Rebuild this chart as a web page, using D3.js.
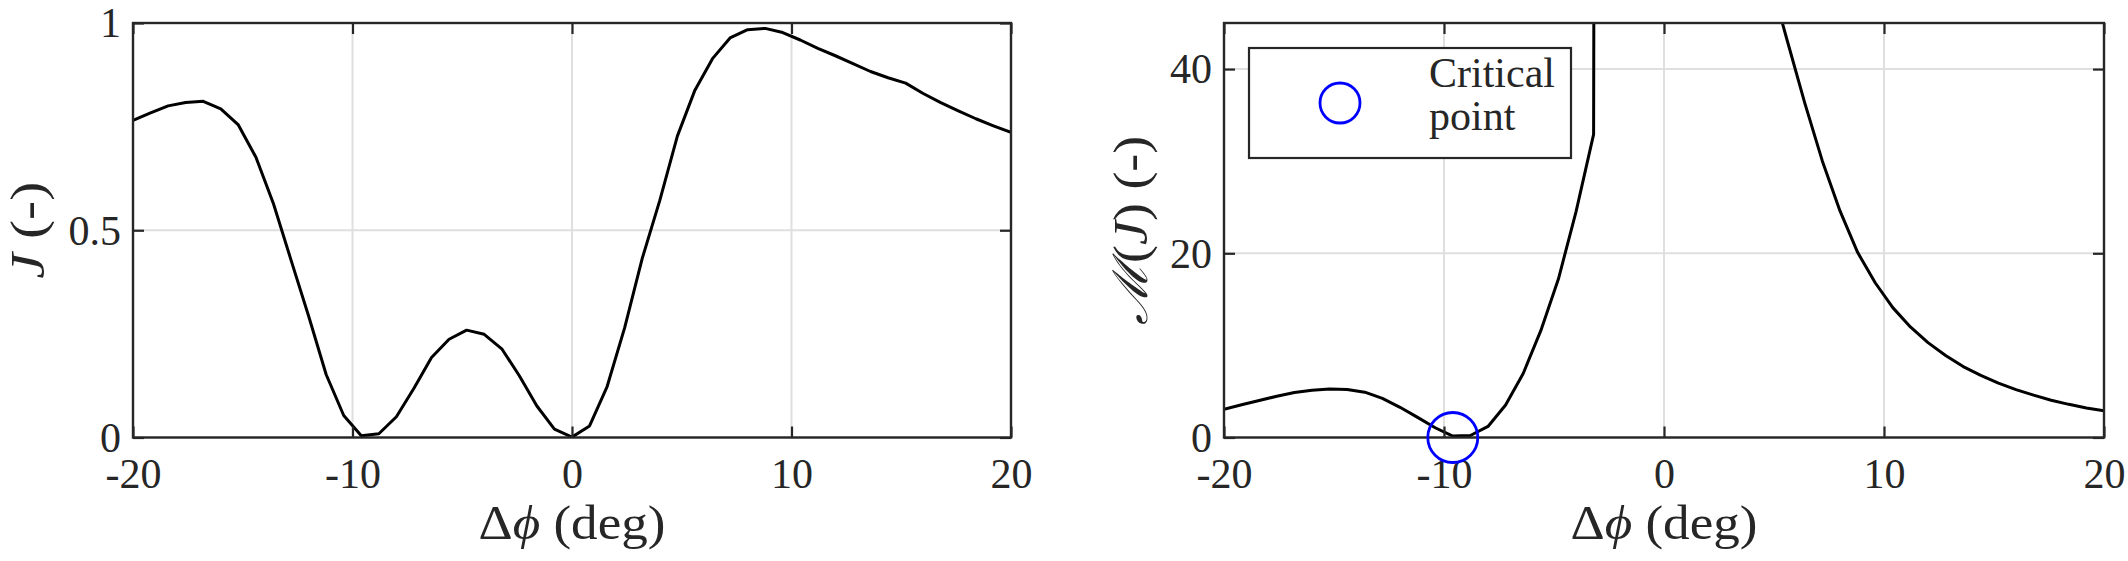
<!DOCTYPE html>
<html>
<head>
<meta charset="utf-8">
<script src="https://cdn.jsdelivr.net/npm/d3@7"></script>
<style>
  body { margin: 0; background: #fff; }
</style>
</head>
<body>
<svg id="fig" width="2128" height="561"></svg>
<script>
// delta phi samples (deg)
const dphi = [-20, -19.2, -18.4, -17.6, -16.8, -16, -15.2, -14.4, -13.6, -12.8,
  -12, -11.2, -10.4, -9.6, -8.8, -8, -7.2, -6.4, -5.6, -4.8,
  -4, -3.2, -2.4, -1.6, -0.8, 0, 0.8, 1.6, 2.4, 3.2,
  4, 4.8, 5.6, 6.4, 7.2, 8, 8.8, 9.6, 10.4, 11.2,
  12, 12.8, 13.6, 14.4, 15.2, 16, 16.8, 17.6, 18.4, 19.2, 20];

// J (-)
const jVals = [0.765, 0.783, 0.800, 0.808, 0.811, 0.793, 0.754, 0.676, 0.564, 0.428,
  0.293, 0.152, 0.053, 0.004, 0.009, 0.050, 0.119, 0.193, 0.237, 0.259,
  0.249, 0.214, 0.149, 0.076, 0.020, 0.001, 0.028, 0.123, 0.265, 0.432,
  0.572, 0.727, 0.838, 0.914, 0.964, 0.984, 0.987, 0.977, 0.959, 0.939,
  0.921, 0.902, 0.883, 0.868, 0.855, 0.830, 0.808, 0.788, 0.769, 0.752, 0.736];

// M(J) (-), off-scale values between -2.4 and 4 deg
const mVals = [3.07, 3.55, 4.02, 4.48, 4.88, 5.12, 5.27, 5.22, 4.92, 4.25,
  3.28, 2.18, 1.06, 0.15, 0.22, 1.2, 3.52, 6.95, 11.6, 17.2,
  24.5, 32.9, 1000, 1000, 1000, 1000, 1000, 1000, 1000, 1000,
  1000, 50, 43.1, 36.3, 30.0, 24.6, 20.1, 16.8, 14.1, 12.0,
  10.3, 8.9, 7.7, 6.75, 5.9, 5.2, 4.6, 4.05, 3.6, 3.2, 2.9];

// critical point
const critX = [-9.6];
const critY = [0];

const xTicks = [-20, -10, 0, 10, 20];
const jTicks = [0, 0.5, 1];
const mTicks = [0, 20, 40];

const FONT = "'Liberation Serif', 'Times New Roman', 'DejaVu Serif', serif";
const svg = d3.select("#fig").attr("font-family", FONT);
const top_ = 23, bottom = 437.5;
const ink = "#262626";

function txt(sel, size) {
  return sel.style("font-family", FONT).style("font-size", size + "px").attr("fill", ink);
}

function panel(id, x0, x1, yDomain, yTicks, values) {
  const x = d3.scaleLinear().domain([-20, 20]).range([x0, x1]);
  const y = d3.scaleLinear().domain(yDomain).range([bottom, top_]);
  const g = svg.append("g").attr("id", id);

  g.append("clipPath").attr("id", id + "clip")
    .append("rect").attr("x", x0).attr("y", top_)
    .attr("width", x1 - x0).attr("height", bottom - top_);

  // grid
  g.selectAll(".gx").data(xTicks).enter().append("line")
    .attr("x1", d => x(d)).attr("x2", d => x(d))
    .attr("y1", top_).attr("y2", bottom)
    .attr("stroke", "#dfdfdf").attr("stroke-width", 2);
  g.selectAll(".gy").data(yTicks).enter().append("line")
    .attr("x1", x0).attr("x2", x1)
    .attr("y1", d => y(d)).attr("y2", d => y(d))
    .attr("stroke", "#dfdfdf").attr("stroke-width", 2);

  // curve
  const line = d3.line().x((d, i) => x(dphi[i])).y(d => y(d));
  g.append("path")
    .datum(values)
    .attr("clip-path", "url(#" + id + "clip)")
    .attr("d", line)
    .attr("fill", "none")
    .attr("stroke", "#000")
    .attr("stroke-width", 3)
    .attr("stroke-linejoin", "round");

  // axes, ticks pointing inward
  const fmt = d => String(d);
  const ax = [
    [d3.axisBottom(x).tickValues(xTicks).tickFormat(fmt), `translate(0,${bottom})`, "x"],
    [d3.axisTop(x).tickValues(xTicks).tickFormat(""), `translate(0,${top_})`, ""],
    [d3.axisLeft(y).tickValues(yTicks).tickFormat(fmt), `translate(${x0},0)`, "y"],
    [d3.axisRight(y).tickValues(yTicks).tickFormat(""), `translate(${x1},0)`, ""]
  ];
  ax.forEach(([a, tr, kind]) => {
    const s = g.append("g")
      .attr("transform", tr)
      .call(a.tickSizeInner(-11).tickSizeOuter(0));
    s.attr("font-family", null).attr("font-size", null);
    s.select(".domain").remove();
    s.selectAll(".tick line").attr("stroke", ink).attr("stroke-width", 2.2);
    const t = txt(s.selectAll(".tick text"), 42);
    if (kind === "x") t.attr("y", 50).attr("dy", 0);
    if (kind === "y") t.attr("x", -12).attr("dy", "0.33em");
  });

  // box
  g.append("rect").attr("x", x0).attr("y", top_)
    .attr("width", x1 - x0).attr("height", bottom - top_)
    .attr("fill", "none").attr("stroke", ink).attr("stroke-width", 2.4);

  return { g, x, y };
}

const left = panel("pJ", 133, 1011, [0, 1], jTicks, jVals);
const right = panel("pM", 1224, 2104, [0, 45], mTicks, mVals);

// axis labels
function xLabel(p) {
  const t = txt(p.g.append("text"), 48)
    .attr("x", p.x(0)).attr("y", 539)
    .attr("text-anchor", "middle")
    .attr("textLength", 187)
    .attr("lengthAdjust", "spacingAndGlyphs");
  t.append("tspan").text("\u0394");
  t.append("tspan").style("font-style", "italic").text("\u03d5");
  t.append("tspan").text(" (deg)");
}
xLabel(left);
xLabel(right);

const yl = txt(svg.append("text"), 48)
  .attr("transform", `translate(44,${(top_ + bottom) / 2}) rotate(-90)`)
  .attr("text-anchor", "middle")
  .attr("textLength", 97)
  .attr("lengthAdjust", "spacingAndGlyphs");
yl.append("tspan").style("font-style", "italic").text("J");
yl.append("tspan").text(" (-)");

const yr = txt(svg.append("text"), 48)
  .attr("transform", `translate(1147,${(top_ + bottom) / 2}) rotate(-90)`)
  .attr("text-anchor", "middle")
  .attr("textLength", 189)
  .attr("lengthAdjust", "spacingAndGlyphs");
yr.append("tspan").style("font-style", "italic").text("\u2133");
yr.append("tspan").text("(");
yr.append("tspan").style("font-style", "italic").text("J");
yr.append("tspan").text(") (-)");

// critical point marker
right.g.selectAll(".crit").data(critX).enter().append("circle")
  .attr("cx", d => right.x(d))
  .attr("cy", (d, i) => right.y(critY[i]))
  .attr("r", 25)
  .attr("fill", "none").attr("stroke", "#0000ff").attr("stroke-width", 2.8);

// legend
const leg = svg.append("g");
leg.append("rect").attr("x", 1249).attr("y", 48)
  .attr("width", 322).attr("height", 110)
  .attr("fill", "#fff").attr("stroke", ink).attr("stroke-width", 2.2);
leg.append("circle").attr("cx", 1340).attr("cy", 103).attr("r", 20)
  .attr("fill", "none").attr("stroke", "#0000ff").attr("stroke-width", 2.8);
txt(leg.append("text"), 42).attr("x", 1429).attr("y", 87).text("Critical");
txt(leg.append("text"), 42).attr("x", 1429).attr("y", 130).text("point");
</script>
</body>
</html>
